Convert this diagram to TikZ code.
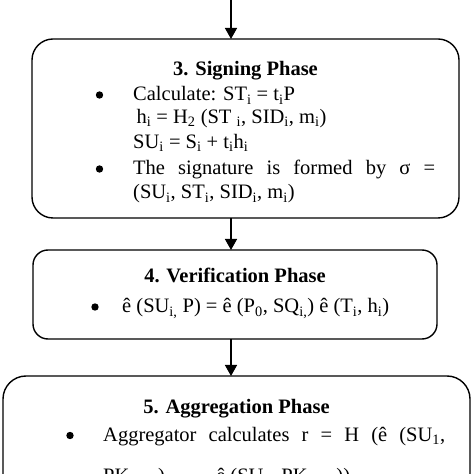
\documentclass[tikz,border=0pt]{standalone}
\usepackage{fontspec}
\setmainfont{Liberation Serif}
\usetikzlibrary{arrows.meta}
\newcommand\sbs[1]{\textsubscript{#1}}
\begin{document}
\begin{tikzpicture}[x=1pt,y=1pt,
  box/.style={draw, line width=1.4pt, inner sep=0pt, outer sep=0pt},
  arr/.style={line width=1.4pt, -{Triangle[length=11pt,width=12pt]}},
  txt/.style={anchor=base west, inner sep=0pt, font=\fontsize{20.5}{24}\selectfont},
  ttl/.style={anchor=base, inner sep=0pt, font=\fontsize{20.5}{24}\selectfont\bfseries},
  dot/.style={circle, fill, inner sep=0pt, minimum size=7.4pt}]
\useasboundingbox (0,0) rectangle (474,474);
\clip (0,0) rectangle (474,474);
% boxes
\node[box, rounded corners=21pt, minimum width=427pt, minimum height=179pt] (b3) at (245.5,345.5) {};
\node[box, rounded corners=15pt, minimum width=404pt, minimum height=89pt] (b4) at (235,179.5) {};
\node[box, rounded corners=23pt, minimum width=467pt, minimum height=160pt] (b5) at (236.5,18) {};
% arrows
\coordinate (top) at (231,474);
\draw[arr] (top) -- (top |- b3.north);
\draw[arr] (top |- b3.south) -- (top |- b4.north);
\draw[arr] (top |- b4.south) -- (top |- b5.north);
% box 3 text
\node[ttl] (t3) at (245.5,398) {3. Signing Phase};
\node[dot] (b3a) at (99.5,379) {};
\node[txt] (l31) at (133,373) {Calculate: ST\sbs{i} = t\sbs{i}P};
\node[txt] (l32) at (133,350.7) {\,h\sbs{i} = H\sbs{2} (ST \sbs{i}, SID\sbs{i}, m\sbs{i})};
\node[txt] (l33) at (133,325.7) {SU\sbs{i} = S\sbs{i} + t\sbs{i}h\sbs{i}};
\node[dot] (b3b) at (99.5,305) {};
\node[txt] (l34) at (133,299) {\makebox[302pt][s]{The signature is formed by σ =}};
\node[txt] (l35) at (133,275) {(SU\sbs{i}, ST\sbs{i}, SID\sbs{i}, m\sbs{i})};
% box 4 text
\node[ttl] (t4) at (235,191.3) {4. Verification Phase};
\node[dot] (b4a) at (95,167) {};
\node[txt] (l41) at (122,161) {ê (SU\sbs{i,} P) = ê (P\sbs{0}, SQ\sbs{i,}) ê (T\sbs{i}, h\sbs{i})};
% box 5 text
\node[ttl] (t5) at (236.5,60) {5. Aggregation Phase};
\node[dot] (b5a) at (70,38.5) {};
\node[txt] (l51) at (103,32.5) {\makebox[342pt][s]{Aggregator calculates r = H (ê (SU\sbs{1},}};
\node[txt] (l52) at (103,-9) {PK\sbs{agg,i}), \ldots, \ \ ê (SU\sbs{n}, PK\sbs{agg,i}))};
\end{tikzpicture}
\end{document}
